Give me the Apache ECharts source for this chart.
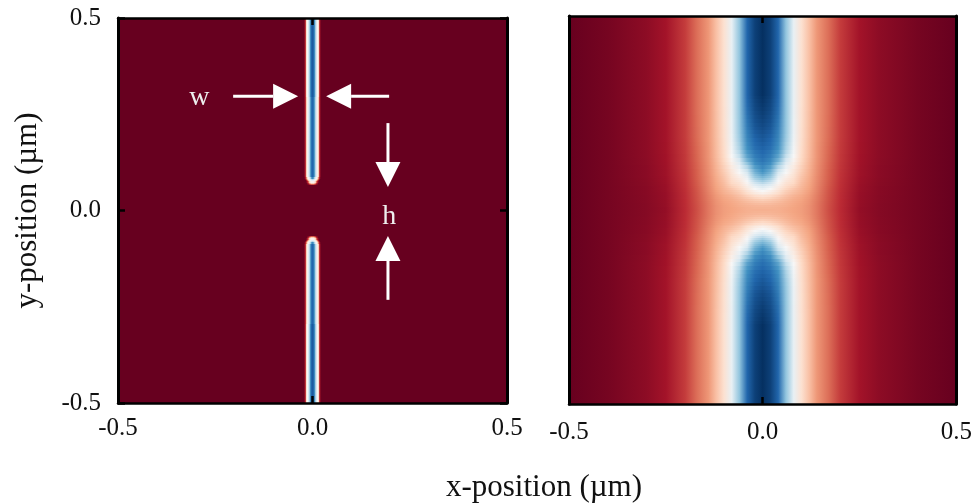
<!DOCTYPE html>
<html><head><meta charset="utf-8">
<style>html,body{margin:0;padding:0;background:#fff}#c{width:975px;height:504px}</style>
<script src="https://cdn.jsdelivr.net/npm/echarts@6/dist/echarts.min.js"></script>
</head><body><div id="c"></div>
<script>
// Colour ramp (RdBu reversed order), field value 0..1
const rampColors = ['#67001f','#b2182b','#d6604d','#f4a582','#fddbc7','#f7f7f7','#d1e5f0','#92c5de','#4393c3','#2166ac','#053061'];
const tickLabels = [-0.5, 0.0, 0.5];
const xTitle = 'x-position (\u00b5m)';
const yTitle = 'y-position (\u00b5m)';

// Left panel: half-profiles. Columns = |x|, rows = |y| (symmetric slit)
const leftX = [0,0.0026,0.005,0.0077,0.0103,0.013,0.0154,0.018,0.0205,0.023,0.5];
const leftY = [0,0.065,0.068,0.071,0.074,0.077,0.08,0.085,0.09,0.5];
const leftRows = [
 [0,0,0,0,0,0,0,0,0,0,0],
 [0,0,0,0,0,0,0,0,0,0,0],
 [.2,.2,.17,.12,.05,.02,0,0,0,0,0],
 [.38,.38,.33,.25,.12,.05,0,0,0,0,0],
 [.48,.48,.45,.38,.22,.1,.03,0,0,0,0],
 [.55,.55,.52,.45,.36,.2,.08,0,0,0,0],
 [.65,.62,.57,.52,.45,.33,.18,.05,0,0,0],
 [.82,.77,.66,.56,.49,.41,.26,.1,.02,0,0],
 [.9,.87,.78,.65,.57,.48,.38,.13,.04,0,0],
 [.92,.9,.82,.68,.59,.5,.42,.14,.04,0,0]
];

// Right panel: half-profiles.
const rightX = [0,.02,.04,.06,.08,.1,.12,.14,.17,.2,.25,.3,.4,.5];
const rightY = [0,.005,.01,.015,.02,.025,.03,.035,.04,.045,.05,.055,.06,.065,.07,.075,.08,.085,.09,.095,.1,.11,.12,.13,.14,.15,.16,.17,.18,.19,.2,.21,.22,.23,.24,.25,.26,.27,.28,.29,.3,.5];
const rightRows = [
 [.32,.32,.32,.31,.30,.29,.27,.235,.175,.125,.06,.04,.02,0],
 [.325,.325,.32,.312,.30,.29,.27,.235,.176,.125,.06,.04,.02,0],
 [.332,.33,.325,.316,.303,.291,.27,.235,.177,.126,.061,.04,.02,0],
 [.344,.34,.332,.32,.306,.293,.272,.236,.178,.126,.061,.04,.02,0],
 [.36,.353,.342,.325,.31,.296,.274,.238,.179,.127,.062,.041,.02,0],
 [.377,.368,.353,.333,.315,.30,.276,.24,.18,.127,.062,.041,.02,0],
 [.398,.387,.367,.342,.321,.304,.279,.242,.181,.128,.063,.041,.02,0],
 [.423,.408,.382,.352,.328,.309,.282,.244,.182,.128,.063,.041,.02,0],
 [.45,.43,.397,.362,.336,.314,.285,.246,.183,.129,.064,.042,.02,0],
 [.475,.452,.413,.371,.344,.32,.289,.248,.184,.129,.064,.042,.02,0],
 [.50,.473,.43,.38,.352,.325,.293,.25,.185,.13,.065,.042,.02,0],
 [.535,.50,.445,.393,.362,.33,.297,.252,.187,.131,.066,.043,.02,0],
 [.565,.53,.46,.405,.375,.335,.30,.254,.189,.132,.067,.043,.02,0],
 [.60,.56,.475,.418,.387,.34,.303,.256,.191,.133,.068,.044,.02,0],
 [.64,.60,.49,.43,.398,.345,.306,.258,.193,.134,.069,.044,.02,0],
 [.68,.63,.505,.443,.405,.35,.309,.26,.195,.135,.07,.045,.02,0],
 [.71,.66,.52,.455,.412,.355,.312,.262,.197,.136,.071,.045,.02,0],
 [.735,.69,.54,.468,.42,.36,.315,.263,.198,.137,.072,.046,.02,0],
 [.76,.71,.56,.48,.428,.365,.318,.265,.199,.138,.073,.046,.02,0],
 [.785,.73,.58,.50,.436,.37,.32,.266,.2,.139,.073,.046,.02,0],
 [.805,.75,.61,.51,.444,.375,.323,.268,.2,.14,.073,.046,.02,0],
 [.83,.78,.65,.535,.456,.382,.328,.27,.203,.142,.075,.047,.02,0],
 [.85,.81,.70,.56,.47,.39,.332,.272,.205,.143,.076,.048,.02,0],
 [.868,.83,.74,.59,.485,.396,.336,.274,.207,.144,.077,.048,.02,0],
 [.882,.85,.77,.62,.50,.40,.339,.275,.208,.145,.077,.049,.02,0],
 [.895,.865,.79,.645,.51,.404,.341,.276,.21,.146,.078,.049,.02,0],
 [.906,.88,.805,.66,.517,.408,.343,.277,.212,.147,.078,.05,.02,0],
 [.915,.89,.815,.67,.522,.41,.344,.278,.214,.148,.079,.05,.02,0],
 [.924,.90,.825,.68,.526,.412,.345,.279,.216,.149,.08,.05,.02,0],
 [.932,.91,.833,.685,.528,.414,.346,.279,.217,.15,.08,.05,.02,0],
 [.94,.918,.84,.69,.531,.415,.346,.28,.218,.15,.08,.05,.02,0],
 [.948,.926,.848,.694,.533,.416,.347,.28,.218,.15,.08,.05,.02,0],
 [.955,.932,.856,.696,.534,.417,.348,.28,.219,.15,.08,.05,.02,0],
 [.962,.938,.863,.697,.535,.418,.348,.28,.219,.15,.08,.05,.02,0],
 [.968,.943,.87,.698,.536,.418,.349,.28,.219,.15,.08,.05,.02,0],
 [.974,.948,.877,.699,.537,.419,.349,.28,.22,.15,.08,.05,.02,0],
 [.98,.953,.883,.7,.538,.419,.35,.28,.22,.15,.08,.05,.02,0],
 [.985,.958,.888,.7,.538,.42,.35,.28,.22,.15,.08,.05,.02,0],
 [.99,.962,.893,.7,.539,.42,.35,.28,.22,.15,.08,.05,.02,0],
 [.995,.966,.897,.7,.54,.42,.35,.28,.22,.15,.08,.05,.02,0],
 [1,.97,.9,.7,.54,.42,.35,.28,.22,.15,.08,.05,.02,0],
 [1,.97,.9,.7,.54,.42,.35,.28,.22,.15,.08,.05,.02,0]
];

// Annotations on the left panel: [x tail, y tail, x tip, y tip]
const arrows = [
 [-0.204,0.297,-0.037,0.297],
 [0.197,0.297,0.035,0.297],
 [0.194,0.227,0.194,0.061],
 [0.194,-0.232,0.194,-0.066]
];
const notes = [['w',-0.291,0.293],['h',0.197,-0.017]];

const FONT = '"Liberation Serif", serif';
const INK = '#000';

function parse(c){return [1,3,5].map(i=>parseInt(c.slice(i,i+2),16));}
function colorOf(v){
  const p = Math.max(0,Math.min(1,v))*(rampColors.length-1);
  const i = Math.min(Math.floor(p),rampColors.length-2), f = p-i;
  const a = parse(rampColors[i]), b = parse(rampColors[i+1]);
  return 'rgb('+a.map((k,j)=>Math.round(k+(b[j]-k)*f)).join(',')+')';
}
// Symmetric field: each row is drawn at +y and -y, across -x..+x
function rowData(ys){
  const out=[];
  ys.forEach((y,i)=>{
    const hi = i<ys.length-1 ? (y+ys[i+1])/2 : 0.5;
    const lo = i>0 ? (y+ys[i-1])/2 : 0;
    out.push([lo,hi,i]);
    out.push([-hi,-lo,i]);
  });
  return out;
}
function fieldSeries(idx,xs,ys,rows){
  return {
    type:'custom', xAxisIndex:idx*2, yAxisIndex:idx*2, clip:true, silent:true, z:2,
    data:rowData(ys),
    encode:{x:[],y:[0,1]},
    renderItem(params,api){
      const y0=api.value(0), y1=api.value(1), r=rows[api.value(2)];
      const pL=api.coord([-0.5,y1]), pR=api.coord([0.5,y0]);
      const top=Math.round(pL[1]), bot=Math.round(pR[1]);
      const stops=[];
      for(let k=xs.length-1;k>=0;k--) stops.push({offset:0.5-xs[k],color:colorOf(r[k])});
      for(let k=1;k<xs.length;k++) stops.push({offset:0.5+xs[k],color:colorOf(r[k])});
      return {type:'rect',shape:{x:pL[0],y:top,width:pR[0]-pL[0],height:bot-top},
        style:{fill:{type:'linear',x:0,y:0,x2:1,y2:0,colorStops:stops}}};
    }
  };
}
function arrowSeries(){
  return {
    type:'custom', xAxisIndex:0, yAxisIndex:0, silent:true, z:5,
    data:arrows, encode:{x:[0,2],y:[1,3]},
    renderItem(params,api){
      const a=api.coord([api.value(0),api.value(1)]), b=api.coord([api.value(2),api.value(3)]);
      const L=Math.hypot(b[0]-a[0],b[1]-a[1]), ux=(b[0]-a[0])/L, uy=(b[1]-a[1])/L;
      const hl=25, hw=12.5, bx=b[0]-ux*hl, by=b[1]-uy*hl;
      return {type:'group',children:[
        {type:'line',shape:{x1:a[0],y1:a[1],x2:bx,y2:by},style:{stroke:'#fff',lineWidth:3}},
        {type:'polygon',shape:{points:[[b[0],b[1]],[bx-uy*hw,by+ux*hw],[bx+uy*hw,by-ux*hw]]},style:{fill:'#fff'}}
      ]};
    }
  };
}
function noteSeries(){
  return {
    type:'custom', xAxisIndex:0, yAxisIndex:0, silent:true, z:5,
    data:notes.map(n=>[n[1],n[2]]), encode:{x:0,y:1},
    renderItem(params,api){
      const p=api.coord([api.value(0),api.value(1)]);
      return {type:'text',style:{x:p[0],y:p[1],text:notes[params.dataIndex][0],fill:'#eee',
        font:'28px '+FONT,textAlign:'center',textVerticalAlign:'middle'}};
    }
  };
}
const grids=[{left:118,top:18,width:389,height:385},{left:569,top:16,width:389,height:388}];
function axis(kind,gi,pos,labels,extra){
  const o=Object.assign({
    type:'value',gridIndex:gi,position:pos,min:-0.5,max:0.5,interval:0.5,z:10,
    axisLine:{show:true,onZero:false,lineStyle:{color:INK,width:kind==='y'?3:2.5}},
    axisTick:{show:true,inside:true,length:7,lineStyle:{color:INK,width:2.5}},
    splitLine:{show:false},
    axisLabel:{show:labels,color:'#111',fontFamily:FONT,fontSize:25,
      formatter:v=>tickLabels[Math.round((v+0.5)/0.5)].toFixed(1),
      margin:kind==='x'?(gi===0?13:16):17,showMinLabel:true,showMaxLabel:true}
  },extra||{});
  return o;
}
const option={
  animation:false,
  backgroundColor:'#fff',
  grid:grids,
  title:{text:xTitle,left:544,top:472,textAlign:'center',
    textStyle:{fontFamily:FONT,fontSize:31,fontWeight:'normal',color:'#111'},padding:0},
  xAxis:[
    axis('x',0,'bottom',true),
    axis('x',0,'top',false),
    axis('x',1,'bottom',true),
    axis('x',1,'top',false)
  ],
  yAxis:[
    axis('y',0,'left',true,{name:yTitle,nameLocation:'middle',nameGap:75,
      nameTextStyle:{fontFamily:FONT,fontSize:31,color:'#111'}}),
    axis('y',0,'right',false),
    axis('y',1,'left',false,{axisTick:{show:false}}),
    axis('y',1,'right',false,{axisTick:{show:false}})
  ],
  series:[
    fieldSeries(0,leftX,leftY,leftRows),
    fieldSeries(1,rightX,rightY,rightRows),
    arrowSeries(),
    noteSeries()
  ]
};
const chart=echarts.init(document.getElementById('c'),null,{renderer:'canvas'});
chart.setOption(option);
</script></body></html>
